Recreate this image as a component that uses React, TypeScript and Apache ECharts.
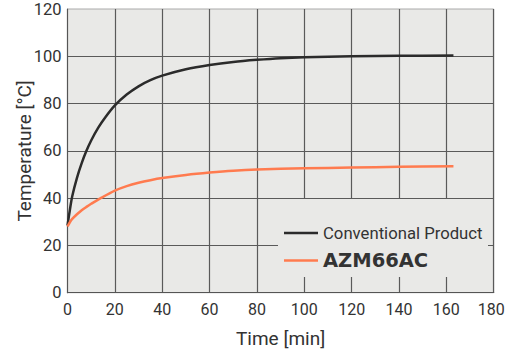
import React, { useEffect, useRef } from "react";
import * as echarts from "echarts";

const timeConventional = [0, 1, 2, 4, 6, 8, 10, 13, 16, 20, 25, 30, 35, 40, 50, 60, 70, 80, 90, 100, 120, 140, 163];
const tempConventional = [28.5, 35, 40.8, 48.6, 54.8, 60, 64.4, 69.8, 74.2, 79.2, 83.8, 87.3, 89.9, 91.8, 94.5, 96.3, 97.6, 98.5, 99.2, 99.6, 100, 100.2, 100.3];
const timeAZM = [0, 1, 2, 4, 6, 8, 10, 14, 20, 25, 30, 35, 40, 50, 60, 70, 80, 100, 120, 140, 163];
const tempAZM = [28, 29.8, 31.2, 33.2, 34.9, 36.3, 37.6, 40, 43.2, 45.1, 46.5, 47.6, 48.5, 49.8, 50.8, 51.6, 52.1, 52.6, 52.95, 53.25, 53.5];
const seriesNames = ["Conventional Product", "AZM66AC"];
const xLabel = "Time [min]";
const yLabel = "Temperature [°C]";

const FONT = "Roboto, 'Liberation Sans', sans-serif";

export default function App() {
  const ref = useRef<HTMLDivElement>(null);
  useEffect(() => {
    if (!ref.current) return;
    const chart = echarts.init(ref.current, undefined, { renderer: "svg" });
    const pair = (xs: number[], ys: number[]) => xs.map((x, i) => [x, ys[i]]);
    chart.setOption({
      animation: false,
      textStyle: { fontFamily: FONT },
      grid: {
        left: 67.5,
        right: 11.3,
        top: 9,
        bottom: 58.3,
        containLabel: false,
        outerBoundsMode: "none",
        show: true,
        backgroundColor: "#e9e9e7",
        borderColor: "#aaaaaa",
        borderWidth: 1,
      },
      xAxis: {
        type: "value",
        min: 0,
        max: 180,
        interval: 20,
        name: xLabel,
        nameLocation: "middle",
        nameGap: 36,
        nameMoveOverlap: false,
        nameTextStyle: { fontFamily: FONT, fontSize: 19, color: "#333" },
        axisLine: { show: true, lineStyle: { color: "#555", width: 1.2 } },
        axisTick: { show: false },
        axisLabel: {
          fontFamily: FONT,
          fontSize: 16,
          color: "#333",
          margin: 9,
          alignMinLabel: "center",
          alignMaxLabel: "center",
          formatter: (v: number) => (v === 180 ? "{m|" + v + "}" : String(v)),
          rich: { m: { fontFamily: FONT, fontSize: 16, color: "#333", padding: [0, 5, 0, 0] } },
        },
        splitLine: { show: true, showMinLine: false, lineStyle: { color: "#5a5a5a", width: 1.2 } },
      },
      yAxis: {
        type: "value",
        min: 0,
        max: 120,
        interval: 20,
        name: yLabel,
        nameLocation: "middle",
        nameGap: 34,
        nameMoveOverlap: false,
        nameTextStyle: { fontFamily: FONT, fontSize: 19, color: "#333" },
        axisLine: { show: true, lineStyle: { color: "#555", width: 1.2 } },
        axisTick: { show: false },
        axisLabel: { fontFamily: FONT, fontSize: 16.5, color: "#333", margin: 6 },
        splitLine: { show: true, showMinLine: false, showMaxLine: false, lineStyle: { color: "#5a5a5a", width: 1.2 } },
      },
      graphic: [
        {
          type: "rect",
          z: 3,
          shape: { x: 278, y: 199, width: 210, height: 78 },
          style: { fill: "#e9e9e7" },
        },
      ],
      legend: {
        z: 5,
        orient: "vertical",
        left: 279,
        top: 219.5,
        itemWidth: 34,
        itemHeight: 2.5,
        itemGap: 9,
        icon: "rect",
        data: [
          { name: seriesNames[0], textStyle: { fontFamily: FONT, fontSize: 16.7, color: "#333" } },
          { name: seriesNames[1], textStyle: { fontFamily: "'DejaVu Sans', sans-serif", fontWeight: "bold", fontSize: 19.5, color: "#333" } },
        ],
      },
      series: [
        {
          name: seriesNames[0],
          type: "line",
          data: pair(timeConventional, tempConventional),
          smooth: 0.3,
          symbol: "none",
          lineStyle: { color: "#2b2b2b", width: 2.5 },
          itemStyle: { color: "#2b2b2b" },
        },
        {
          name: seriesNames[1],
          type: "line",
          data: pair(timeAZM, tempAZM),
          smooth: 0.3,
          symbol: "none",
          lineStyle: { color: "#ff7b4f", width: 2.5 },
          itemStyle: { color: "#ff7b4f" },
        },
      ],
    });
    return () => chart.dispose();
  }, []);
  return <div ref={ref} style={{ width: 505, height: 351, position: "absolute", left: 0, top: 0 }} />;
}
